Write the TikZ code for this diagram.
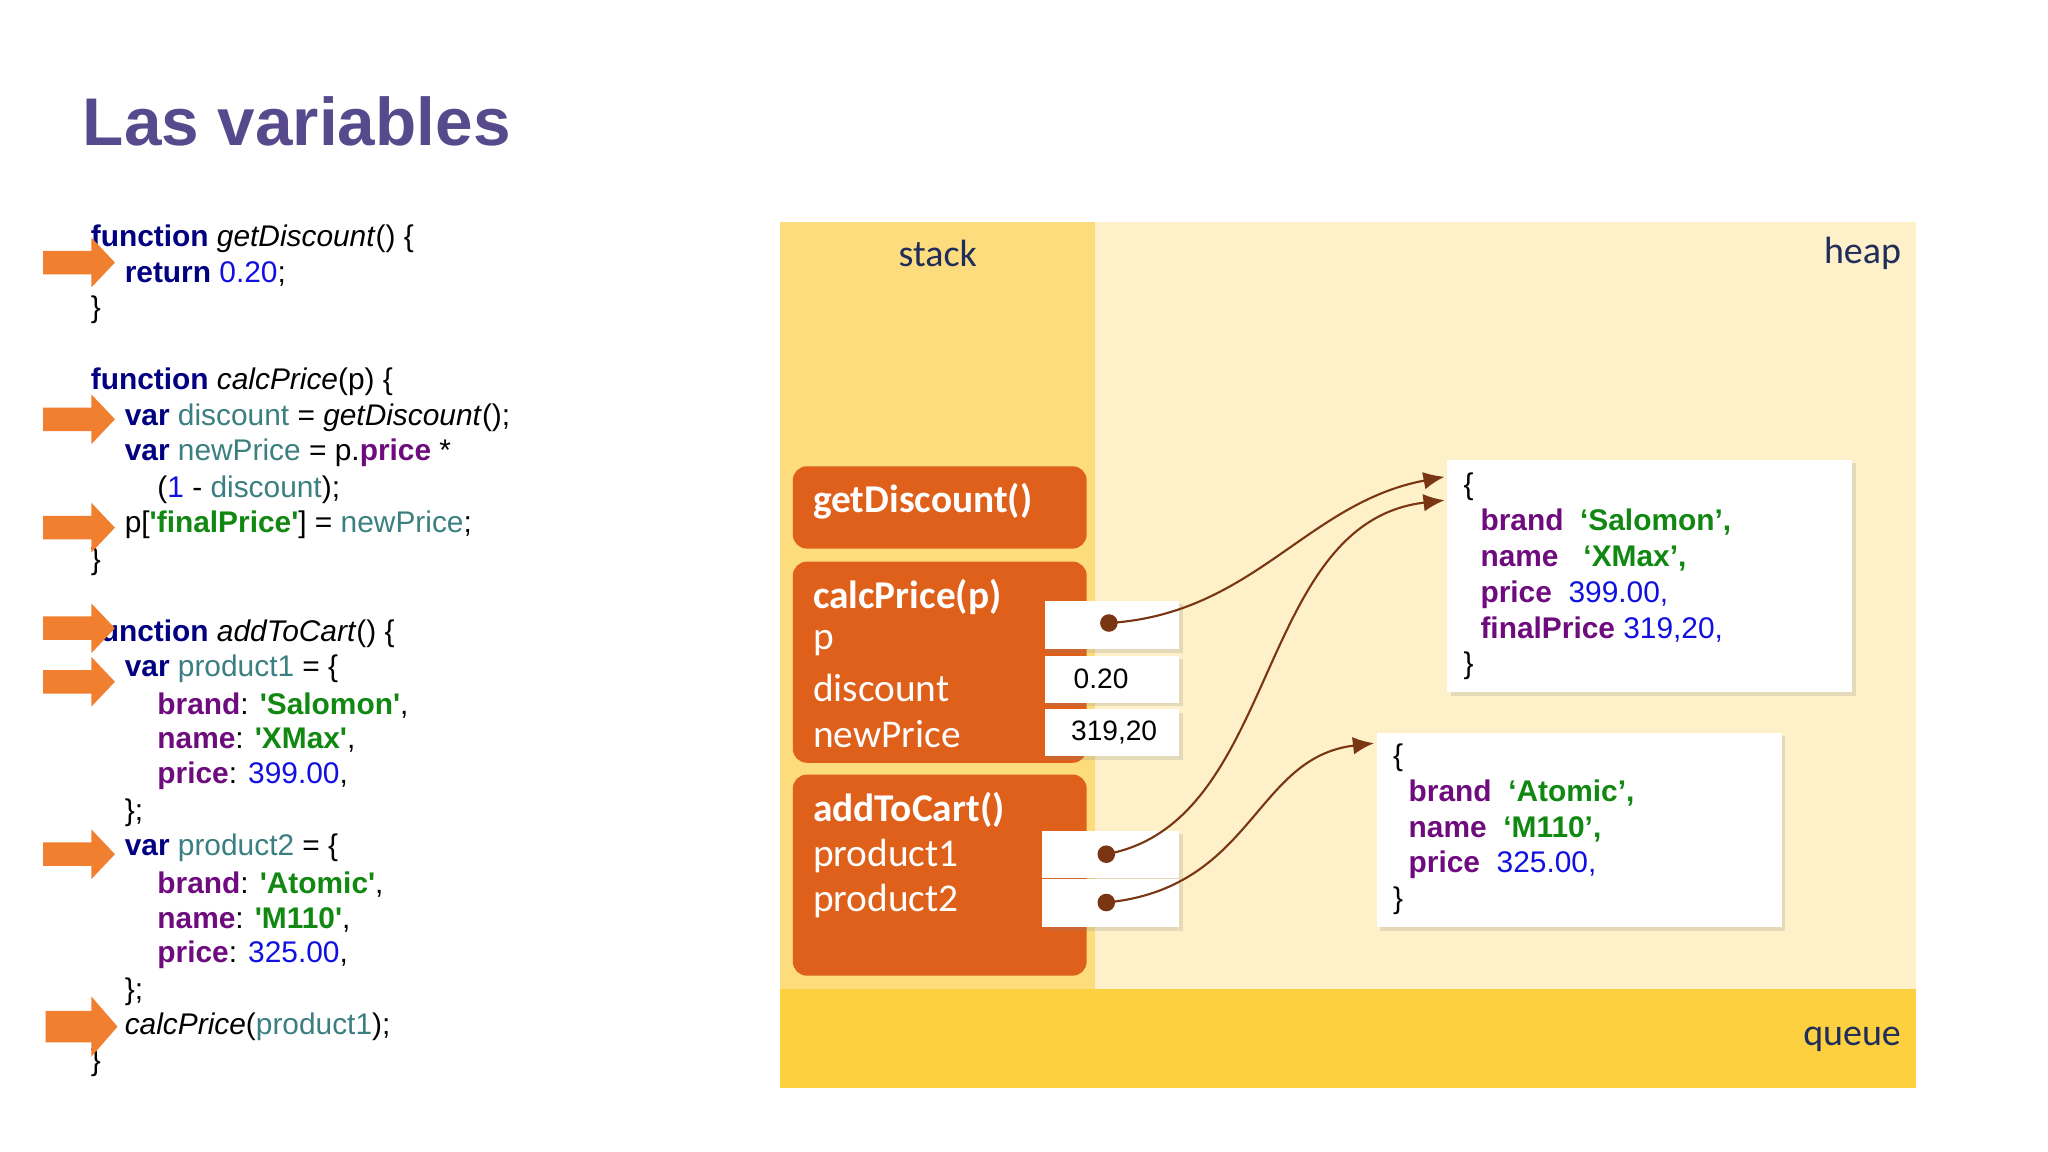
\documentclass[tikz,border=0pt]{standalone}
\usepackage{fontspec}
\setmainfont{Liberation Sans}
\newfontfamily\carl{Carlito}
\usetikzlibrary{shadows,arrows.meta}
\definecolor{kw}{HTML}{000080}
\definecolor{vr}{HTML}{3B7F80}
\definecolor{nm}{HTML}{1010E0}
\definecolor{st}{HTML}{118811}
\definecolor{pr}{HTML}{6E0C7E}
\definecolor{org}{HTML}{F08030}
\definecolor{frm}{HTML}{DF601A}
\definecolor{stk}{HTML}{FDDC7E}
\definecolor{hp}{HTML}{FEF0C8}
\definecolor{qu}{HTML}{FDD040}
\definecolor{lab}{HTML}{1F2D5A}
\definecolor{brn}{HTML}{7A3512}
\definecolor{ttl}{HTML}{574A8C}
\newcommand{\K}[1]{\textcolor{kw}{\textbf{#1}}}
\newcommand{\V}[1]{\textcolor{vr}{#1}}
\newcommand{\N}[1]{\textcolor{nm}{#1}}
\newcommand{\Sg}[1]{\textcolor{st}{\textbf{#1}}}
\newcommand{\Pp}[1]{\textcolor{pr}{\textbf{#1}}}
\newcommand{\q}{\textquotesingle}
\begin{document}
\begin{tikzpicture}[x=0.01306cm,y=-0.01306cm,
  code/.style={anchor=west,inner sep=0pt,font=\fontsize{8.5}{10}\selectfont},
  frame/.style={fill=frm,rounded corners=4pt,draw=none},
  flab/.style={anchor=west,inner sep=0pt,text=white,font=\carl\fontsize{11.2}{13}\selectfont},
  cell/.style={fill=white,draw=none,drop shadow={shadow xshift=1pt,shadow yshift=-1pt,opacity=0.2}},
  dot/.style={circle,fill=brn,inner sep=0pt,minimum size=5pt},
  ptr/.style={brn,line width=0.6pt,-{Latex[length=6pt,width=5pt]}},
  rlab/.style={text=lab,font=\carl\fontsize{10.8}{13}\selectfont,inner sep=0pt},
  arr/.style={fill=org,draw=none}]
\useasboundingbox (0,0) rectangle (1568,882);
\fill[white] (0,0) rectangle (1568,882);
\node[anchor=west,inner sep=0pt,text=ttl,font=\bfseries\fontsize{19.2}{22}\selectfont] (title) at (63,93) {Las variables};
% code
\node[code] (c1) at (69,183) {\K{function} \textit{getDiscount}() \{};
\node[code] (c2) at (95,210) {\K{return} \N{0.20};};
\node[code] (c3) at (69,237) {\}};
\node[code] (c4) at (69,292) {\K{function} \textit{calcPrice}(p) \{};
\node[code] (c5) at (95,320) {\K{var} \V{discount} = \textit{getDiscount}();};
\node[code] (c6) at (95,347) {\K{var} \V{newPrice} = p.\Pp{price} *};
\node[code] (c7) at (120,375) {(\N{1} - \V{discount});};
\node[code] (c8) at (95,402) {p[\Sg{\q finalPrice\q}] = \V{newPrice};};
\node[code] (c9) at (69,430) {\}};
\node[code] (c10) at (69,485) {\K{function} \textit{addToCart}() \{};
\node[code] (c11) at (95,512) {\K{var} \V{product1} = \{};
\node[code] (c12) at (120,540) {\Pp{brand}: \Sg{\q Salomon\q},};
\node[code] (c13) at (120,567) {\Pp{name}: \Sg{\q XMax\q},};
\node[code] (c14) at (120,594) {\Pp{price}: \N{399.00},};
\node[code] (c15) at (95,622) {\};};
\node[code] (c16) at (95,649) {\K{var} \V{product2} = \{};
\node[code] (c17) at (120,677) {\Pp{brand}: \Sg{\q Atomic\q},};
\node[code] (c18) at (120,704) {\Pp{name}: \Sg{\q M110\q},};
\node[code] (c19) at (120,731) {\Pp{price}: \N{325.00},};
\node[code] (c20) at (95,759) {\};};
\node[code] (c21) at (95,786) {\textit{calcPrice}(\V{product1});};
\node[code] (c22) at (69,814) {\}};
% orange arrows
\foreach \y in {201,321,404,481,522,654}{
  \fill[arr] (33,\y-9) -- (70,\y-9) -- (70,\y-19) -- (88,\y) -- (70,\y+19) -- (70,\y+9) -- (33,\y+9) -- cycle;}
\fill[arr] (35,774) -- (70,774) -- (70,763) -- (90,786) -- (70,809) -- (70,798) -- (35,798) -- cycle;
% regions
\fill[hp] (838,170) rectangle (1467,757);
\fill[stk] (597,170) rectangle (838,757);
\fill[qu] (597,757) rectangle (1467,833);
\node[rlab] (stack) at (718,194) {stack};
\node[rlab] (heap) at (1426,194) {heap};
\node[rlab] (queue) at (1418,796) {queue};
% frames
\fill[frame] (607,357) rectangle (832,420);
\fill[frame] (607,430) rectangle (832,584);
\fill[frame] (607,593) rectangle (832,747);
\node[flab,font=\carl\bfseries\fontsize{11.2}{13}\selectfont] (f1) at (622,384) {getDiscount()};
\node[flab,font=\carl\bfseries\fontsize{11.2}{13}\selectfont] (f2) at (622,457) {calcPrice(p)};
\node[flab] (f2a) at (622,492) {p};
\node[flab] (f2b) at (622,527) {discount};
\node[flab] (f2c) at (622,562) {newPrice};
\node[flab,font=\carl\bfseries\fontsize{11.2}{13}\selectfont] (f3) at (622,620) {addToCart()};
\node[flab] (f3a) at (622,655) {product1};
\node[flab] (f3b) at (622,690) {product2};
% cells
\fill[cell] (800,460) rectangle (903,497);
\fill[cell] (800,502) rectangle (903,538);
\fill[cell] (800,543) rectangle (903,579);
\fill[cell] (798,636) rectangle (903,672);
\fill[cell] (798,673) rectangle (903,710);
\node[font=\fontsize{8}{10}\selectfont,inner sep=0pt] (v1) at (843,520) {0.20};
\node[font=\fontsize{8}{10}\selectfont,inner sep=0pt] (v2) at (853,561) {319,20};
\node[dot] (d1) at (849,477) {};
\node[dot] (d2) at (847,654) {};
\node[dot] (d3) at (847,691) {};
% heap objects
\fill[cell] (1108,352) rectangle (1418,530);
\fill[cell] (1054,561) rectangle (1364,710);
\coordinate (o1a) at (1106,365);
\coordinate (o1b) at (1106,383);
\coordinate (o2) at (1052,569);
\node[code] (h1) at (1120,373) {\{};
\node[code] (h2) at (1133,400) {\Pp{brand}\ \ \Sg{‘Salomon’,}};
\node[code] (h3) at (1133,428) {\Pp{name}\ \ \ \Sg{‘XMax’,}};
\node[code] (h4) at (1133,455) {\Pp{price}\ \ \N{399.00,}};
\node[code] (h5) at (1133,482) {\Pp{finalPrice} \N{319,20,}};
\node[code] (h6) at (1120,510) {\}};
\node[code] (k1) at (1066,580) {\{};
\node[code] (k2) at (1078,607) {\Pp{brand}\ \ \Sg{‘Atomic’,}};
\node[code] (k3) at (1078,635) {\Pp{name}\ \ \Sg{‘M110’,}};
\node[code] (k4) at (1078,662) {\Pp{price}\ \ \N{325.00,}};
\node[code] (k5) at (1066,690) {\}};
% pointers
\draw[ptr] (d1.center) .. controls (960,470) and (1000,385) .. (o1a);
\draw[ptr] (d2.center) .. controls (980,630) and (960,400) .. (o1b);
\draw[ptr] (d3.center) .. controls (960,680) and (960,580) .. (o2);
\end{tikzpicture}
\end{document}
